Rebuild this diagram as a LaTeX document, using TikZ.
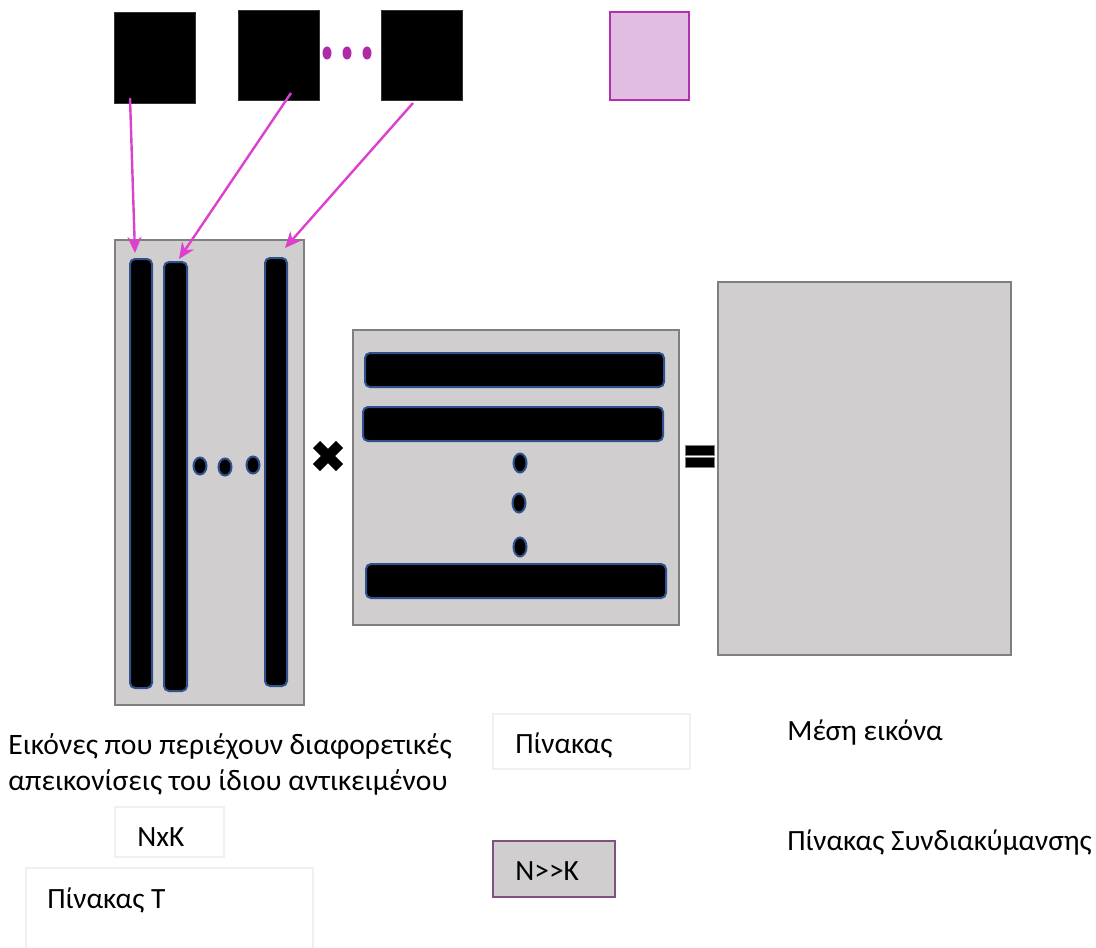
\documentclass[tikz,border=0pt]{standalone}
\usepackage{fontspec}
\setmainfont{Carlito}
\usetikzlibrary{arrows.meta,fit,shapes.geometric}
\definecolor{boxgray}{HTML}{D0CECF}
\definecolor{edgegray}{HTML}{7F7F7F}
\definecolor{barblue}{HTML}{2F528F}
\definecolor{arrmag}{HTML}{DD40CD}
\definecolor{dotpurple}{HTML}{B02AA8}
\definecolor{pinkfill}{HTML}{E1BEE1}
\definecolor{pinkedge}{HTML}{B030B0}
\definecolor{lightedge}{HTML}{F0F0F0}
\definecolor{nkedge}{HTML}{805080}
\newcommand{\rectnode}[6]{\node[#2, fit={(#3,#4) (#5,#6)}, inner sep=0pt, outer sep=0pt] (#1) {};}
\begin{document}
\begin{tikzpicture}[x=0.5pt,y=-0.5pt,
  imgbox/.style={rectangle, fill=black, draw=black!80, line width=0.5pt},
  pinkbox/.style={rectangle, fill=pinkfill, draw=pinkedge, line width=1pt},
  matbox/.style={rectangle, fill=boxgray, draw=edgegray, line width=1pt},
  bar/.style={rectangle, rounded corners=2.5pt, fill=black, draw=barblue, line width=1pt},
  bdot/.style={ellipse, fill=black, draw=barblue, line width=1pt, inner sep=0pt, minimum width=6.5pt, minimum height=8.5pt},
  mdot/.style={ellipse, fill=dotpurple, draw=none, inner sep=0pt, minimum width=4.5pt, minimum height=6.5pt},
  eqbar/.style={rectangle, fill=black, draw=edgegray, line width=0.5pt},
  lbox/.style={rectangle, draw=lightedge, line width=1pt},
  nkbox/.style={rectangle, fill=boxgray, draw=nkedge, line width=1pt},
  arr/.style={draw=arrmag, line width=1.2pt, -{Stealth[length=8pt,width=7pt,inset=2.5pt]}},
  txt/.style={inner sep=0pt, anchor=base west, font=\fontsize{14.7}{17}\selectfont},
  captxt/.style={inner sep=0pt, anchor=base west, font=\fontsize{14.8}{18}\selectfont}]
\useasboundingbox (0,0) rectangle (1096,947);
% top images
\rectnode{img1}{imgbox}{114}{13}{195}{104}
\rectnode{img2}{imgbox}{238}{11}{319}{101}
\rectnode{img3}{imgbox}{381}{11}{462}{101}
\node[mdot] (md1) at (327,53) {};
\node[mdot] (md2) at (347,53) {};
\node[mdot] (md3) at (367,53) {};
\rectnode{pink}{pinkbox}{610}{12}{689}{100}
% left matrix
\rectnode{T}{matbox}{115}{240}{304}{705}
\rectnode{c1}{bar}{130}{259}{152}{688}
\rectnode{c2}{bar}{164}{262}{187}{691}
\rectnode{c3}{bar}{265}{258}{287}{686}
\node[bdot] (ld1) at (200,466) {};
\node[bdot] (ld2) at (225,467) {};
\node[bdot] (ld3) at (253,465) {};
% arrows
\coordinate (a1s) at (130,98);
\coordinate (a1e) at (135,253);
\coordinate (a2s) at (291,93);
\coordinate (a2e) at (179,259);
\coordinate (a3s) at (413,103);
\coordinate (a3e) at (285,248);
\draw[arr] (a1s) -- (a1e);
\draw[arr] (a2s) -- (a2e);
\draw[arr] (a3s) -- (a3e);
% times sign
\draw[line width=5pt, line cap=butt] (316.5,444.5) -- (339.5,467.5);
\draw[line width=5pt, line cap=butt] (316.5,467.5) -- (339.5,444.5);
% middle matrix
\rectnode{M}{matbox}{353}{330}{679}{625}
\rectnode{r1}{bar}{365}{353}{664}{387}
\rectnode{r2}{bar}{363}{407}{663}{441}
\rectnode{r3}{bar}{366}{564}{666}{598}
\node[bdot, minimum width=6.5pt, minimum height=9.5pt] (md4) at (520,463) {};
\node[bdot, minimum width=6.5pt, minimum height=9.5pt] (md5) at (519,503) {};
\node[bdot, minimum width=6.5pt, minimum height=9.5pt] (md6) at (520,547) {};
% equals sign
\rectnode{eq1}{eqbar}{685}{445}{714}{455}
\rectnode{eq2}{eqbar}{685}{457}{714}{467}
% right matrix
\rectnode{C}{matbox}{718}{282}{1011}{655}
% labels
\node[captxt] (cap1) at (8,754) {Εικόνες που περιέχουν διαφορετικές};
\node[captxt] (cap2) at (8,790) {απεικονίσεις του ίδιου αντικειμένου};
\rectnode{nxkbox}{lbox}{115}{807}{224}{857}
\node[txt] (nxk) at (137,846) {NxK};
\rectnode{tbox}{lbox}{26}{868}{313}{960}
\node[txt] (tlab) at (47,908) {Πίνακας Τ};
\rectnode{pbox}{lbox}{493}{714}{690}{769}
\node[txt] (plab) at (515,753) {Πίνακας};
\rectnode{nk}{nkbox}{493}{841}{615}{897}
\node[txt] (nklab) at (515,880) {N>\kern0pt>K};
\node[txt] (mean) at (787,740) {Μέση εικόνα};
\node[txt] (cov) at (787,850) {Πίνακας Συνδιακύμανσης};
\end{tikzpicture}
\end{document}
